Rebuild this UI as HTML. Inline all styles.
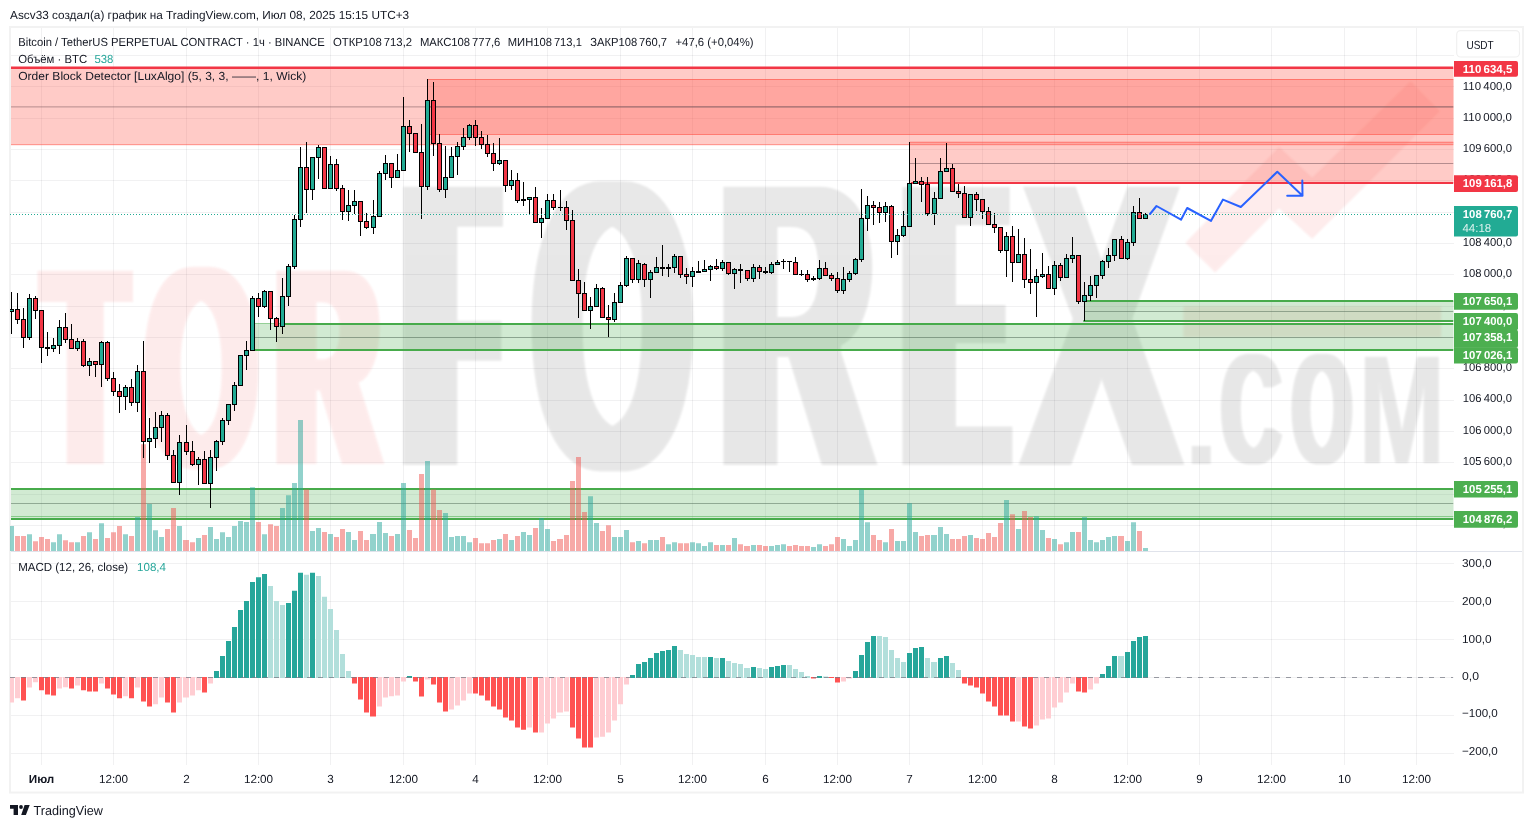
<!DOCTYPE html>
<html lang="ru"><head><meta charset="utf-8"><title>BTCUSDT.P chart</title>
<style>html,body{margin:0;padding:0;background:#fff;overflow:hidden}svg{display:block;opacity:0.999}</style>
</head><body>
<svg width="1533" height="828" viewBox="0 0 1533 828" font-family="'Liberation Sans', sans-serif" text-rendering="geometricPrecision">
<defs>
<clipPath id="cpMain"><rect x="10" y="28" width="1443.5" height="523.5"/></clipPath>
<clipPath id="cpMacd"><rect x="10" y="552" width="1443.5" height="213"/></clipPath>
<filter id="soft"><feGaussianBlur stdDeviation="1.2"/></filter>
</defs>
<rect width="1533" height="828" fill="#fff"/>
<text x="10.1" y="18.7" font-size="11.7" fill="#131722" textLength="399" lengthAdjust="spacingAndGlyphs" >Ascv33 создал(а) график на TradingView.com, Июл 08, 2025 15:15 UTC+3</text>
<rect x="10" y="27" width="1513" height="765.5" fill="none" stroke="#f2f2f2" stroke-width="2"/>
<path d="M41.5 28V765 M113.5 28V765 M186.5 28V765 M258.5 28V765 M330.5 28V765 M403.5 28V765 M475.5 28V765 M547.5 28V765 M620.5 28V765 M692.5 28V765 M765.5 28V765 M837.5 28V765 M909.5 28V765 M982.5 28V765 M1054.5 28V765 M1127.5 28V765 M1199.5 28V765 M1271.5 28V765 M1344.5 28V765 M1416.5 28V765" stroke="rgba(42,46,57,0.065)" stroke-width="1" fill="none" shape-rendering="crispEdges"/>
<path d="M11 55.5H1453.5 M11 86.5H1453.5 M11 118.5H1453.5 M11 149.5H1453.5 M11 180.5H1453.5 M11 212.5H1453.5 M11 243.5H1453.5 M11 274.5H1453.5 M11 306.5H1453.5 M11 337.5H1453.5 M11 368.5H1453.5 M11 400.5H1453.5 M11 431.5H1453.5 M11 462.5H1453.5 M11 494.5H1453.5 M11 525.5H1453.5 M11 563.5H1453.5 M11 601.5H1453.5 M11 639.5H1453.5 M11 677.5H1453.5 M11 715.5H1453.5 M11 753.5H1453.5" stroke="rgba(42,46,57,0.065)" stroke-width="1" fill="none" shape-rendering="crispEdges"/>
<g id="wm" clip-path="url(#cpMain)" aria-label="TORFOREX.COM"><desc>TORFOREX.COM</desc>
<filter id="wf1" filterUnits="userSpaceOnUse" x="8" y="241" width="154" height="253"><feMorphology operator="dilate" radius="8.5 0"/><feGaussianBlur stdDeviation="1.3"/></filter>
<g filter="url(#wf1)" opacity="0.086"><text transform="translate(45.03,463.90) scale(1.3160,2.8067)" font-size="100" font-weight="bold" fill="#f02828">T</text></g>
<filter id="wf2" filterUnits="userSpaceOnUse" x="114" y="237" width="175" height="263"><feMorphology operator="dilate" radius="8.4 0"/><feGaussianBlur stdDeviation="1.3"/></filter>
<g filter="url(#wf2)" opacity="0.086"><text transform="translate(146.19,466.59) scale(1.4177,2.8630)" font-size="100" font-weight="bold" fill="#f02828">O</text></g>
<filter id="wf3" filterUnits="userSpaceOnUse" x="247" y="241" width="167" height="253"><feMorphology operator="dilate" radius="9.5 0"/><feGaussianBlur stdDeviation="1.3"/></filter>
<g filter="url(#wf3)" opacity="0.086"><text transform="translate(277.24,463.90) scale(1.3847,2.8067)" font-size="100" font-weight="bold" fill="#f02828">R</text></g>
<filter id="wf4" filterUnits="userSpaceOnUse" x="373" y="157" width="160" height="338"><feMorphology operator="dilate" radius="18.1 0"/><feMorphology operator="erode" radius="0 3.0"/><feGaussianBlur stdDeviation="1.3"/></filter>
<g filter="url(#wf4)" opacity="0.092"><text transform="translate(412.80,468.00) scale(1.2557,4.1308)" font-size="100" font-weight="bold" fill="#000">F</text></g>
<filter id="wf5" filterUnits="userSpaceOnUse" x="502" y="151" width="222" height="350"><feMorphology operator="dilate" radius="11.0 0"/><feMorphology operator="erode" radius="0 2.0"/><feGaussianBlur stdDeviation="1.3"/></filter>
<g filter="url(#wf5)" opacity="0.092"><text transform="translate(534.25,469.33) scale(2.0121,4.1554)" font-size="100" font-weight="bold" fill="#000">O</text></g>
<filter id="wf6" filterUnits="userSpaceOnUse" x="693" y="157" width="216" height="338"><feMorphology operator="dilate" radius="12.2 0"/><feMorphology operator="erode" radius="0 3.0"/><feGaussianBlur stdDeviation="1.3"/></filter>
<g filter="url(#wf6)" opacity="0.092"><text transform="translate(721.48,468.00) scale(2.0810,4.1308)" font-size="100" font-weight="bold" fill="#000">R</text></g>
<filter id="wf7" filterUnits="userSpaceOnUse" x="872" y="157" width="170" height="338"><feMorphology operator="dilate" radius="17.2 0"/><feMorphology operator="erode" radius="0 3.8"/><feGaussianBlur stdDeviation="1.3"/></filter>
<g filter="url(#wf7)" opacity="0.092"><text transform="translate(910.34,468.80) scale(1.3547,4.1541)" font-size="100" font-weight="bold" fill="#000">E</text></g>
<filter id="wf8" filterUnits="userSpaceOnUse" x="989" y="157" width="225" height="338"><feMorphology operator="dilate" radius="8.5 0"/><feGaussianBlur stdDeviation="1.3"/></filter>
<g filter="url(#wf8)" opacity="0.092"><text transform="translate(1025.49,465.00) scale(2.2790,4.0436)" font-size="100" font-weight="bold" fill="#000">X</text></g>
<filter id="wf9" filterUnits="userSpaceOnUse" x="1162" y="416" width="79" height="78"><feGaussianBlur stdDeviation="1.0"/></filter>
<g filter="url(#wf9)" opacity="0.092"><text transform="translate(1182.61,463.60) scale(1.3536,1.2156)" font-size="100" font-weight="bold" fill="#000">.</text></g>
<filter id="wf10" filterUnits="userSpaceOnUse" x="1191" y="324" width="122" height="171"><feMorphology operator="dilate" radius="3.8 0"/><feMorphology operator="erode" radius="0 1.0"/><feGaussianBlur stdDeviation="1.1"/></filter>
<g filter="url(#wf10)" opacity="0.092"><text transform="translate(1221.52,464.34) scale(0.8243,1.5918)" font-size="100" font-weight="bold" fill="#000">C</text></g>
<filter id="wf11" filterUnits="userSpaceOnUse" x="1261" y="324" width="122" height="171"><feMorphology operator="dilate" radius="4.2 0"/><feMorphology operator="erode" radius="0 1.0"/><feGaussianBlur stdDeviation="1.1"/></filter>
<g filter="url(#wf11)" opacity="0.092"><text transform="translate(1292.17,464.34) scale(0.7642,1.5918)" font-size="100" font-weight="bold" fill="#000">O</text></g>
<filter id="wf12" filterUnits="userSpaceOnUse" x="1335" y="327" width="134" height="166"><feMorphology operator="dilate" radius="0.9 0"/><feGaussianBlur stdDeviation="1.1"/></filter>
<g filter="url(#wf12)" opacity="0.092"><text transform="translate(1358.92,463.30) scale(1.0283,1.5451)" font-size="100" font-weight="bold" fill="#000">M</text></g>
<g filter="url(#soft)" opacity="0.086"><path d="M1185.4 242.8L1279 147.1L1312.2 177.7L1410.6 81.2L1439.8 111.2L1312.2 238.8L1279 208.2L1215.2 272.6z" fill="#f02828"/><rect x="1183.4" y="306.3" width="257.8" height="30.9" fill="#f02828"/></g>
</g>
<g clip-path="url(#cpMain)">
<rect x="11" y="67.6" width="1443" height="77.1" fill="rgba(255,82,70,0.30)"/>
<rect x="428" y="79" width="1026" height="55.5" fill="rgba(255,82,70,0.30)"/>
<rect x="909.7" y="142" width="545" height="41" fill="rgba(255,82,70,0.30)"/>
<path d="M11 144.7H1453.5 M428 79.5H1453.5 M428 134.5H1453.5 M909.7 142.2H1453.5" stroke="rgba(255,82,70,0.6)" stroke-width="1" fill="none"/>
<path d="M11 106.9H1453.5 M428 106.9H1453.5 M909.7 163.5H1453.5" stroke="rgba(120,90,95,0.55)" stroke-width="1" fill="none"/>
<path d="M911 183H1453.5" stroke="#f23645" stroke-width="2" fill="none"/><path d="M11 67.8H1453.5" stroke="#f23645" stroke-width="2.4" fill="none"/>
<rect x="11" y="489" width="1443" height="30" fill="rgba(76,175,80,0.26)"/>
<rect x="255" y="324" width="1199" height="26" fill="rgba(76,175,80,0.26)"/>
<rect x="1085" y="301" width="369" height="20" fill="rgba(76,175,80,0.26)"/>
<path d="M11 516.5H1453.5" stroke="rgba(76,175,80,0.55)" stroke-width="1" fill="none"/>
<path d="M255 323.5H285" stroke="rgba(76,175,80,0.6)" stroke-width="1" fill="none"/>
<path d="M11 503.5H1453.5 M255 337.5H1453.5 M1085 311.5H1453.5" stroke="rgba(80,105,85,0.5)" stroke-width="1" fill="none"/>
<path d="M11 489H1453.5 M11 519H1453.5 M285 324H1453.5 M255 350H1453.5 M1087 301H1453.5 M1083.3 321H1453.5" stroke="#47ab4b" stroke-width="2" fill="none"/>
</g>
<g clip-path="url(#cpMain)">
<path d="M9 526.0h5V551h-5zM27 534.2h5V551h-5zM51 542.2h5V551h-5zM57 534.2h5V551h-5zM75 542.2h5V551h-5zM87 532.2h5V551h-5zM99 523.2h5V551h-5zM123 534.2h5V551h-5zM135 517.1h5V551h-5zM147 504.0h5V551h-5zM153 530.3h5V551h-5zM159 537.1h5V551h-5zM177 526.0h5V551h-5zM196 538.1h5V551h-5zM208 527.1h5V551h-5zM214 539.1h5V551h-5zM220 532.2h5V551h-5zM226 537.1h5V551h-5zM232 526.0h5V551h-5zM238 521.1h5V551h-5zM244 522.0h5V551h-5zM250 487.2h5V551h-5zM262 534.2h5V551h-5zM280 507.9h5V551h-5zM286 495.2h5V551h-5zM292 483.1h5V551h-5zM298 419.9h5V551h-5zM310 531.0h5V551h-5zM316 528.1h5V551h-5zM328 534.0h5V551h-5zM346 532.0h5V551h-5zM352 540.0h5V551h-5zM370 534.0h6V551h-6zM377 522.0h5V551h-5zM383 533.0h5V551h-5zM395 534.0h5V551h-5zM401 483.1h5V551h-5zM425 461.0h5V551h-5zM443 513.0h5V551h-5zM449 537.1h5V551h-5zM455 535.9h5V551h-5zM461 535.9h5V551h-5zM467 542.2h5V551h-5zM497 539.1h5V551h-5zM509 540.0h5V551h-5zM521 532.0h5V551h-5zM527 535.1h5V551h-5zM539 518.1h5V551h-5zM545 529.1h5V551h-5zM588 496.2h5V551h-5zM594 523.0h5V551h-5zM612 537.1h5V551h-5zM618 537.1h5V551h-5zM624 530.1h5V551h-5zM636 541.0h5V551h-5zM648 540.0h5V551h-5zM654 540.0h5V551h-5zM666 544.2h5V551h-5zM672 542.2h5V551h-5zM690 542.2h5V551h-5zM696 543.2h5V551h-5zM702 546.1h5V551h-5zM708 542.2h5V551h-5zM720 545.1h5V551h-5zM732 538.1h5V551h-5zM751 545.1h5V551h-5zM769 546.1h5V551h-5zM775 545.1h5V551h-5zM781 544.2h5V551h-5zM811 547.1h5V551h-5zM817 544.2h5V551h-5zM841 539.1h5V551h-5zM847 546.1h5V551h-5zM853 540.0h5V551h-5zM859 489.4h5V551h-5zM865 522.2h5V551h-5zM883 542.2h5V551h-5zM895 541.0h5V551h-5zM901 541.0h5V551h-5zM907 503.3h5V551h-5zM913 532.0h5V551h-5zM931 535.1h6V551h-6zM938 527.1h5V551h-5zM944 534.0h5V551h-5zM968 535.1h5V551h-5zM1004 500.1h5V551h-5zM1016 529.1h5V551h-5zM1034 516.2h5V551h-5zM1040 530.1h5V551h-5zM1052 539.1h5V551h-5zM1064 542.2h5V551h-5zM1070 532.0h5V551h-5zM1082 517.1h5V551h-5zM1088 540.0h5V551h-5zM1094 542.2h5V551h-5zM1100 540.0h5V551h-5zM1106 537.1h5V551h-5zM1112 536.1h5V551h-5zM1125 541.0h5V551h-5zM1131 522.2h5V551h-5zM1143 548.1h5V551h-5z" fill="rgba(38,166,154,0.5)"/>
<path d="M15 536.1h5V551h-5zM21 536.1h5V551h-5zM33 541.2h5V551h-5zM39 537.1h5V551h-5zM45 539.1h5V551h-5zM63 540.2h5V551h-5zM69 542.2h5V551h-5zM81 536.1h5V551h-5zM93 539.1h5V551h-5zM105 538.1h5V551h-5zM111 532.2h5V551h-5zM117 526.0h5V551h-5zM129 536.1h5V551h-5zM141 444.2h5V551h-5zM165 529.1h5V551h-5zM171 507.9h5V551h-5zM183 540.0h6V551h-6zM190 542.2h5V551h-5zM202 535.1h5V551h-5zM256 522.0h5V551h-5zM268 524.2h5V551h-5zM274 526.0h5V551h-5zM304 489.4h5V551h-5zM322 532.0h5V551h-5zM334 537.1h5V551h-5zM340 529.1h5V551h-5zM358 531.0h5V551h-5zM364 540.0h5V551h-5zM389 536.1h5V551h-5zM407 530.1h5V551h-5zM413 538.1h5V551h-5zM419 474.1h5V551h-5zM431 489.4h5V551h-5zM437 510.1h5V551h-5zM473 538.1h5V551h-5zM479 543.2h5V551h-5zM485 543.2h5V551h-5zM491 540.0h5V551h-5zM503 534.0h5V551h-5zM515 536.1h5V551h-5zM533 528.1h5V551h-5zM551 541.0h5V551h-5zM557 539.1h6V551h-6zM564 535.1h5V551h-5zM570 481.1h5V551h-5zM576 457.1h5V551h-5zM582 512.1h5V551h-5zM600 531.0h5V551h-5zM606 525.2h5V551h-5zM630 542.2h5V551h-5zM642 543.2h5V551h-5zM660 537.1h5V551h-5zM678 543.2h5V551h-5zM684 543.2h5V551h-5zM714 545.1h5V551h-5zM726 545.1h5V551h-5zM738 544.2h5V551h-5zM744 546.1h6V551h-6zM757 545.1h5V551h-5zM763 546.1h5V551h-5zM787 546.1h5V551h-5zM793 545.1h5V551h-5zM799 546.1h5V551h-5zM805 546.1h5V551h-5zM823 546.1h5V551h-5zM829 544.2h5V551h-5zM835 537.1h5V551h-5zM871 535.1h5V551h-5zM877 540.0h5V551h-5zM889 529.1h5V551h-5zM919 536.1h5V551h-5zM925 535.1h5V551h-5zM950 539.1h5V551h-5zM956 539.1h5V551h-5zM962 536.1h5V551h-5zM974 538.1h5V551h-5zM980 539.1h5V551h-5zM986 533.0h5V551h-5zM992 537.1h5V551h-5zM998 523.0h5V551h-5zM1010 514.2h5V551h-5zM1022 511.1h5V551h-5zM1028 517.1h5V551h-5zM1046 538.1h5V551h-5zM1058 544.2h5V551h-5zM1076 532.0h5V551h-5zM1118 536.1h6V551h-6zM1137 531.0h5V551h-5z" fill="rgba(239,83,80,0.5)"/>
</g>
<g clip-path="url(#cpMain)" shape-rendering="crispEdges">
<path d="M11 292h1V334h-1zM17 293h1V324h-1zM23 308h1V348h-1zM29 294h1V340h-1zM35 296h1V319h-1zM41 310h1V363h-1zM47 332h1V356h-1zM53 338h1V352h-1zM59 320h1V354h-1zM65 313h1V343h-1zM71 324h1V349h-1zM77 338h1V351h-1zM83 339h1V367h-1zM89 358h1V376h-1zM95 361h1V377h-1zM101 341h1V387h-1zM107 341h1V381h-1zM113 372h1V396h-1zM119 384h1V413h-1zM125 385h1V410h-1zM131 379h1V406h-1zM137 365h1V412h-1zM143 341h1V458h-1zM149 418h1V463h-1zM155 412h1V448h-1zM161 411h1V442h-1zM167 413h1V460h-1zM173 450h1V483h-1zM179 435h1V495h-1zM186 425h1V455h-1zM192 441h1V466h-1zM198 457h1V485h-1zM204 451h1V484h-1zM210 450h1V508h-1zM216 440h1V471h-1zM222 418h1V445h-1zM228 404h1V425h-1zM234 382h1V411h-1zM240 355h1V386h-1zM246 341h1V370h-1zM252 296h1V351h-1zM258 293h1V317h-1zM264 290h1V308h-1zM270 291h1V330h-1zM276 317h1V342h-1zM282 278h1V334h-1zM288 264h1V306h-1zM294 215h1V269h-1zM300 147h1V227h-1zM306 142h1V213h-1zM312 157h1V200h-1zM318 145h1V179h-1zM324 147h1V189h-1zM330 156h1V189h-1zM336 159h1V191h-1zM342 185h1V220h-1zM348 190h1V221h-1zM354 190h1V214h-1zM360 201h1V236h-1zM366 213h1V229h-1zM373 200h1V234h-1zM379 171h1V217h-1zM385 155h1V180h-1zM391 163h1V188h-1zM397 154h1V178h-1zM403 97h1V171h-1zM409 120h1V152h-1zM415 133h1V153h-1zM421 124h1V219h-1zM427 79h1V190h-1zM433 82h1V156h-1zM439 134h1V192h-1zM445 146h1V198h-1zM451 147h1V178h-1zM457 142h1V175h-1zM463 128h1V150h-1zM469 124h1V140h-1zM475 120h1V146h-1zM481 131h1V149h-1zM487 135h1V157h-1zM493 143h1V171h-1zM499 138h1V165h-1zM505 160h1V192h-1zM511 170h1V190h-1zM517 173h1V203h-1zM523 182h1V206h-1zM529 197h1V214h-1zM535 187h1V223h-1zM541 208h1V238h-1zM547 194h1V219h-1zM553 194h1V210h-1zM560 190h1V211h-1zM566 201h1V230h-1zM572 210h1V281h-1zM578 269h1V318h-1zM584 282h1V311h-1zM590 297h1V329h-1zM596 284h1V307h-1zM602 287h1V318h-1zM608 305h1V337h-1zM614 293h1V322h-1zM620 282h1V303h-1zM626 256h1V287h-1zM632 258h1V283h-1zM638 260h1V283h-1zM644 263h1V287h-1zM650 270h1V298h-1zM656 257h1V273h-1zM662 245h1V276h-1zM668 264h1V277h-1zM674 254h1V273h-1zM680 256h1V278h-1zM686 268h1V284h-1zM692 267h1V287h-1zM698 261h1V273h-1zM704 260h1V272h-1zM710 265h1V281h-1zM716 259h1V270h-1zM722 260h1V271h-1zM728 262h1V275h-1zM734 268h1V289h-1zM740 264h1V283h-1zM747 270h1V281h-1zM753 264h1V282h-1zM759 265h1V279h-1zM765 267h1V274h-1zM771 262h1V274h-1zM777 260h1V265h-1zM783 259h1V269h-1zM789 261h1V272h-1zM795 257h1V275h-1zM801 270h1V276h-1zM807 270h1V282h-1zM813 276h1V281h-1zM819 260h1V280h-1zM825 262h1V276h-1zM831 273h1V281h-1zM837 272h1V293h-1zM843 267h1V294h-1zM849 271h1V282h-1zM855 258h1V275h-1zM861 189h1V262h-1zM867 196h1V231h-1zM873 201h1V225h-1zM879 202h1V223h-1zM885 202h1V222h-1zM891 205h1V258h-1zM897 229h1V255h-1zM903 211h1V237h-1zM909 142h1V227h-1zM915 158h1V184h-1zM921 177h1V202h-1zM927 177h1V216h-1zM934 192h1V225h-1zM940 158h1V199h-1zM946 143h1V172h-1zM952 164h1V192h-1zM958 184h1V198h-1zM964 186h1V218h-1zM970 194h1V226h-1zM976 192h1V211h-1zM982 199h1V219h-1zM988 207h1V225h-1zM994 213h1V233h-1zM1000 227h1V253h-1zM1006 232h1V277h-1zM1012 226h1V282h-1zM1018 229h1V263h-1zM1024 238h1V288h-1zM1030 249h1V294h-1zM1036 269h1V317h-1zM1042 253h1V278h-1zM1048 266h1V289h-1zM1054 261h1V295h-1zM1060 263h1V281h-1zM1066 254h1V278h-1zM1072 237h1V263h-1zM1078 255h1V304h-1zM1084 282h1V321h-1zM1090 276h1V301h-1zM1096 275h1V298h-1zM1102 260h1V279h-1zM1108 248h1V268h-1zM1114 239h1V261h-1zM1121 236h1V259h-1zM1127 239h1V260h-1zM1133 206h1V246h-1zM1139 198h1V219h-1zM1145 213h1V219h-1z" fill="#000"/>
<path d="M9 309h5V312h-5zM15 309h5V320h-5zM21 319h5V338h-5zM27 298h5V338h-5zM33 298h5V311h-5zM39 310h5V348h-5zM45 347h5V349h-5zM51 345h5V349h-5zM57 327h5V346h-5zM63 327h5V340h-5zM69 339h5V349h-5zM75 341h5V349h-5zM81 341h5V366h-5zM87 361h5V366h-5zM93 361h5V365h-5zM99 342h5V365h-5zM105 342h5V379h-5zM111 378h5V392h-5zM117 391h5V397h-5zM123 387h5V397h-5zM129 387h5V403h-5zM135 371h5V403h-5zM141 371h5V442h-5zM147 438h5V442h-5zM153 427h5V439h-5zM159 415h5V428h-5zM165 415h5V456h-5zM171 455h5V483h-5zM177 442h5V483h-5zM184 442h5V452h-5zM190 451h5V465h-5zM196 459h5V465h-5zM202 459h5V484h-5zM208 457h5V484h-5zM214 441h5V458h-5zM220 420h5V442h-5zM226 404h5V421h-5zM232 385h5V405h-5zM238 355h5V386h-5zM244 350h5V356h-5zM250 298h5V351h-5zM256 298h5V307h-5zM262 291h5V307h-5zM268 291h5V319h-5zM274 318h5V327h-5zM280 296h5V327h-5zM286 266h5V297h-5zM292 219h5V267h-5zM298 167h5V220h-5zM304 167h5V190h-5zM310 157h5V190h-5zM316 147h5V158h-5zM322 147h5V189h-5zM328 164h5V189h-5zM334 164h5V189h-5zM340 188h5V212h-5zM346 205h5V212h-5zM352 201h5V206h-5zM358 201h5V222h-5zM364 221h5V228h-5zM371 216h5V228h-5zM377 173h5V217h-5zM383 163h5V174h-5zM389 163h5V178h-5zM395 170h5V178h-5zM401 126h5V171h-5zM407 126h5V134h-5zM413 133h5V153h-5zM419 152h5V187h-5zM425 100h5V187h-5zM431 100h5V144h-5zM437 143h5V190h-5zM443 177h5V190h-5zM449 156h5V178h-5zM455 146h5V157h-5zM461 137h5V147h-5zM467 125h5V138h-5zM473 125h5V138h-5zM479 137h5V145h-5zM485 144h5V154h-5zM491 153h5V164h-5zM497 160h5V164h-5zM503 160h5V186h-5zM509 180h5V186h-5zM515 180h5V201h-5zM521 199h5V201h-5zM527 197h5V200h-5zM533 197h5V223h-5zM539 218h5V223h-5zM545 200h5V219h-5zM551 200h5V208h-5zM558 207h5V208h-5zM564 207h5V221h-5zM570 220h5V281h-5zM576 280h5V294h-5zM582 293h5V311h-5zM588 306h5V311h-5zM594 288h5V307h-5zM600 288h5V318h-5zM606 317h5V320h-5zM612 302h5V320h-5zM618 285h5V303h-5zM624 258h5V286h-5zM630 258h5V280h-5zM636 263h5V280h-5zM642 264h5V280h-5zM648 272h5V280h-5zM654 267h5V273h-5zM660 267h5V269h-5zM666 267h5V269h-5zM672 256h5V268h-5zM678 256h5V275h-5zM684 274h5V277h-5zM690 271h5V277h-5zM696 271h5V273h-5zM702 269h5V272h-5zM708 266h5V270h-5zM714 266h5V269h-5zM720 262h5V269h-5zM726 262h5V274h-5zM732 269h5V274h-5zM738 269h5V271h-5zM745 270h5V279h-5zM751 267h5V279h-5zM757 267h5V272h-5zM763 271h5V273h-5zM769 264h5V273h-5zM775 262h5V265h-5zM781 261h5V262h-5zM787 261h5V262h-5zM793 262h5V275h-5zM799 274h5V275h-5zM805 274h5V280h-5zM811 278h5V280h-5zM817 268h5V279h-5zM823 268h5V276h-5zM829 275h5V279h-5zM835 278h5V291h-5zM841 279h5V291h-5zM847 273h5V280h-5zM853 259h5V274h-5zM859 218h5V260h-5zM865 205h5V219h-5zM871 205h5V208h-5zM877 207h5V213h-5zM883 206h5V213h-5zM889 206h5V242h-5zM895 235h5V242h-5zM901 226h5V236h-5zM907 183h5V227h-5zM913 181h5V184h-5zM919 181h5V185h-5zM925 184h5V214h-5zM932 198h5V214h-5zM938 171h5V199h-5zM944 168h5V172h-5zM950 168h5V192h-5zM956 191h5V194h-5zM962 193h5V218h-5zM968 194h5V218h-5zM974 194h5V200h-5zM980 199h5V212h-5zM986 211h5V225h-5zM992 224h5V228h-5zM998 227h5V251h-5zM1004 236h5V251h-5zM1010 236h5V263h-5zM1016 254h5V263h-5zM1022 254h5V280h-5zM1028 279h5V283h-5zM1034 276h5V283h-5zM1040 274h5V277h-5zM1046 274h5V289h-5zM1052 265h5V289h-5zM1058 265h5V278h-5zM1064 258h5V278h-5zM1070 255h5V259h-5zM1076 255h5V302h-5zM1082 295h5V302h-5zM1088 285h5V296h-5zM1094 275h5V286h-5zM1100 261h5V276h-5zM1106 255h5V262h-5zM1112 239h5V256h-5zM1119 239h5V259h-5zM1125 242h5V259h-5zM1131 212h5V243h-5zM1137 212h5V219h-5zM1143 214h5V219h-5z" fill="#000"/>
<path d="M10 310h3V311h-3zM28 299h3V337h-3zM52 346h3V348h-3zM58 328h3V345h-3zM76 342h3V348h-3zM88 362h3V365h-3zM100 343h3V364h-3zM124 388h3V396h-3zM136 372h3V402h-3zM148 439h3V441h-3zM154 428h3V438h-3zM160 416h3V427h-3zM178 443h3V482h-3zM197 460h3V464h-3zM209 458h3V483h-3zM215 442h3V457h-3zM221 421h3V441h-3zM227 405h3V420h-3zM233 386h3V404h-3zM239 356h3V385h-3zM245 351h3V355h-3zM251 299h3V350h-3zM263 292h3V306h-3zM281 297h3V326h-3zM287 267h3V296h-3zM293 220h3V266h-3zM299 168h3V219h-3zM311 158h3V189h-3zM317 148h3V157h-3zM329 165h3V188h-3zM347 206h3V211h-3zM353 202h3V205h-3zM372 217h3V227h-3zM378 174h3V216h-3zM384 164h3V173h-3zM396 171h3V177h-3zM402 127h3V170h-3zM426 101h3V186h-3zM444 178h3V189h-3zM450 157h3V177h-3zM456 147h3V156h-3zM462 138h3V146h-3zM468 126h3V137h-3zM498 161h3V163h-3zM510 181h3V185h-3zM528 198h3V199h-3zM540 219h3V222h-3zM546 201h3V218h-3zM589 307h3V310h-3zM595 289h3V306h-3zM613 303h3V319h-3zM619 286h3V302h-3zM625 259h3V285h-3zM637 264h3V279h-3zM649 273h3V279h-3zM655 268h3V272h-3zM673 257h3V267h-3zM691 272h3V276h-3zM703 270h3V271h-3zM709 267h3V269h-3zM721 263h3V268h-3zM733 270h3V273h-3zM752 268h3V278h-3zM770 265h3V272h-3zM776 263h3V264h-3zM818 269h3V278h-3zM842 280h3V290h-3zM848 274h3V279h-3zM854 260h3V273h-3zM860 219h3V259h-3zM866 206h3V218h-3zM884 207h3V212h-3zM896 236h3V241h-3zM902 227h3V235h-3zM908 184h3V226h-3zM914 182h3V183h-3zM933 199h3V213h-3zM939 172h3V198h-3zM945 169h3V171h-3zM969 195h3V217h-3zM1005 237h3V250h-3zM1017 255h3V262h-3zM1035 277h3V282h-3zM1041 275h3V276h-3zM1053 266h3V288h-3zM1065 259h3V277h-3zM1071 256h3V258h-3zM1083 296h3V301h-3zM1089 286h3V295h-3zM1095 276h3V285h-3zM1101 262h3V275h-3zM1107 256h3V261h-3zM1113 240h3V255h-3zM1126 243h3V258h-3zM1132 213h3V242h-3zM1144 215h3V218h-3z" fill="#22ab94"/>
<path d="M16 310h3V319h-3zM22 320h3V337h-3zM34 299h3V310h-3zM40 311h3V347h-3zM64 328h3V339h-3zM70 340h3V348h-3zM82 342h3V365h-3zM94 362h3V364h-3zM106 343h3V378h-3zM112 379h3V391h-3zM118 392h3V396h-3zM130 388h3V402h-3zM142 372h3V441h-3zM166 416h3V455h-3zM172 456h3V482h-3zM185 443h3V451h-3zM191 452h3V464h-3zM203 460h3V483h-3zM257 299h3V306h-3zM269 292h3V318h-3zM275 319h3V326h-3zM305 168h3V189h-3zM323 148h3V188h-3zM335 165h3V188h-3zM341 189h3V211h-3zM359 202h3V221h-3zM365 222h3V227h-3zM390 164h3V177h-3zM408 127h3V133h-3zM414 134h3V152h-3zM420 153h3V186h-3zM432 101h3V143h-3zM438 144h3V189h-3zM474 126h3V137h-3zM480 138h3V144h-3zM486 145h3V153h-3zM492 154h3V163h-3zM504 161h3V185h-3zM516 181h3V200h-3zM534 198h3V222h-3zM552 201h3V207h-3zM565 208h3V220h-3zM571 221h3V280h-3zM577 281h3V293h-3zM583 294h3V310h-3zM601 289h3V317h-3zM607 318h3V319h-3zM631 259h3V279h-3zM643 265h3V279h-3zM679 257h3V274h-3zM685 275h3V276h-3zM715 267h3V268h-3zM727 263h3V273h-3zM746 271h3V278h-3zM758 268h3V271h-3zM794 263h3V274h-3zM806 275h3V279h-3zM824 269h3V275h-3zM830 276h3V278h-3zM836 279h3V290h-3zM872 206h3V207h-3zM878 208h3V212h-3zM890 207h3V241h-3zM920 182h3V184h-3zM926 185h3V213h-3zM951 169h3V191h-3zM957 192h3V193h-3zM963 194h3V217h-3zM975 195h3V199h-3zM981 200h3V211h-3zM987 212h3V224h-3zM993 225h3V227h-3zM999 228h3V250h-3zM1011 237h3V262h-3zM1023 255h3V279h-3zM1029 280h3V282h-3zM1047 275h3V288h-3zM1059 266h3V277h-3zM1077 256h3V301h-3zM1120 240h3V258h-3zM1138 213h3V218h-3z" fill="#f23645"/>
</g>
<g clip-path="url(#cpMain)"><path d="" fill="#22ab94" opacity="0.8"/><path d="" fill="#f23645" opacity="0.8"/></g>
<path d="M10 214.5H1453" stroke="#22ab94" stroke-width="1" stroke-dasharray="1 2" fill="none" shape-rendering="crispEdges"/>
<path d="M1150 214 L1156.5 206 L1181 219.7 L1187.2 208 L1210.9 220.9 L1223 199.6 L1240.8 207 L1277.3 171.7 L1302.5 195.8 M1302.3 180.6 L1302.5 195.8 L1287.2 195.8" stroke="#2962ff" stroke-width="2" fill="none" stroke-linejoin="round" stroke-linecap="round"/>
<g clip-path="url(#cpMacd)">
<path d="M214 678h5V671.0h-5zM220 678h5V656.0h-5zM226 678h5V641.0h-5zM232 678h5V627.0h-5zM238 678h5V610.1h-5zM244 678h5V600.9h-5zM250 678h5V582.1h-5zM256 678h5V577.3h-5zM262 678h5V573.9h-5zM286 678h5V602.9h-5zM292 678h5V590.8h-5zM298 678h5V572.7h-5zM310 678h5V572.7h-5zM407 678h5V676.1h-5zM630 678h5V675.1h-5zM636 678h5V664.0h-5zM642 678h5V662.0h-5zM648 678h5V657.9h-5zM654 678h5V653.1h-5zM660 678h5V650.9h-5zM666 678h5V650.0h-5zM672 678h5V645.9h-5zM708 678h5V657.0h-5zM720 678h5V657.9h-5zM751 678h5V666.9h-5zM769 678h5V666.9h-5zM775 678h5V665.9h-5zM781 678h5V664.9h-5zM817 678h5V676.1h-5zM853 678h5V671.0h-5zM859 678h5V655.0h-5zM865 678h5V642.0h-5zM871 678h5V636.0h-5zM907 678h5V653.1h-5zM913 678h5V648.0h-5zM919 678h5V647.1h-5zM938 678h5V657.9h-5zM944 678h5V656.0h-5zM1100 678h5V674.1h-5zM1106 678h5V665.9h-5zM1112 678h5V656.0h-5zM1125 678h5V651.9h-5zM1131 678h5V641.0h-5zM1137 678h5V636.9h-5zM1143 678h5V636.0h-5z" fill="#26a69a"/>
<path d="M268 678h5V586.0h-5zM274 678h5V600.9h-5zM280 678h5V605.0h-5zM304 678h5V574.8h-5zM316 678h5V576.1h-5zM322 678h5V596.8h-5zM328 678h5V608.9h-5zM334 678h5V629.9h-5zM340 678h5V654.1h-5zM346 678h5V671.0h-5zM678 678h5V650.0h-5zM684 678h5V654.1h-5zM690 678h5V655.0h-5zM696 678h5V657.0h-5zM702 678h5V657.0h-5zM714 678h5V657.9h-5zM726 678h5V661.1h-5zM732 678h5V663.0h-5zM738 678h5V664.0h-5zM744 678h6V668.1h-6zM757 678h5V668.1h-5zM763 678h5V669.0h-5zM787 678h5V664.9h-5zM793 678h5V669.0h-5zM799 678h5V671.9h-5zM805 678h5V676.1h-5zM823 678h5V676.5h-5zM877 678h5V636.0h-5zM883 678h5V636.9h-5zM889 678h5V650.0h-5zM895 678h5V657.9h-5zM901 678h5V662.0h-5zM925 678h5V657.9h-5zM931 678h6V662.0h-6zM950 678h5V663.0h-5zM956 678h5V670.0h-5zM1118 678h6V656.0h-6z" fill="#b2dfdb"/>
<path d="M21 677h5V700.4h-5zM39 677h5V690.3h-5zM45 677h5V694.4h-5zM51 677h5V695.6h-5zM69 677h5V688.4h-5zM81 677h5V690.3h-5zM87 677h5V691.5h-5zM93 677h5V691.5h-5zM105 677h5V688.4h-5zM111 677h5V694.4h-5zM117 677h5V698.3h-5zM129 677h5V698.3h-5zM141 677h5V701.4h-5zM147 677h5V706.5h-5zM165 677h5V702.4h-5zM171 677h5V712.5h-5zM202 677h5V692.5h-5zM352 677h5V683.5h-5zM358 677h5V699.5h-5zM364 677h5V712.5h-5zM370 677h6V716.6h-6zM413 677h5V681.4h-5zM419 677h5V696.6h-5zM431 677h5V684.5h-5zM437 677h5V702.4h-5zM443 677h5V711.6h-5zM473 677h5V693.4h-5zM479 677h5V695.6h-5zM485 677h5V700.4h-5zM491 677h5V706.5h-5zM497 677h5V709.6h-5zM503 677h5V717.6h-5zM509 677h5V720.5h-5zM515 677h5V727.5h-5zM521 677h5V729.7h-5zM533 677h5V732.6h-5zM570 677h5V727.5h-5zM576 677h5V738.6h-5zM582 677h5V747.5h-5zM588 677h5V747.5h-5zM811 677h5V678.5h-5zM829 677h5V678.0h-5zM835 677h5V682.6h-5zM962 677h5V683.5h-5zM968 677h5V685.5h-5zM974 677h5V687.4h-5zM980 677h5V693.4h-5zM986 677h5V701.4h-5zM992 677h5V706.5h-5zM998 677h5V715.4h-5zM1004 677h5V715.4h-5zM1010 677h5V721.5h-5zM1022 677h5V726.5h-5zM1028 677h5V728.5h-5zM1076 677h5V691.5h-5zM1082 677h5V692.5h-5z" fill="#ff5252"/>
<path d="M9 677h5V702.4h-5zM15 677h5V698.3h-5zM27 677h5V687.4h-5zM33 677h5V682.3h-5zM57 677h5V688.4h-5zM63 677h5V687.2h-5zM75 677h5V685.5h-5zM99 677h5V683.5h-5zM123 677h5V696.3h-5zM135 677h5V687.4h-5zM153 677h5V704.3h-5zM159 677h5V697.5h-5zM177 677h5V702.4h-5zM183 677h6V697.5h-6zM190 677h5V695.6h-5zM196 677h5V690.3h-5zM208 677h5V683.5h-5zM377 677h5V706.5h-5zM383 677h5V697.5h-5zM389 677h5V696.3h-5zM395 677h5V695.6h-5zM401 677h5V681.4h-5zM425 677h5V679.4h-5zM449 677h5V709.6h-5zM455 677h5V705.5h-5zM461 677h5V700.4h-5zM467 677h5V693.4h-5zM527 677h5V727.5h-5zM539 677h5V732.6h-5zM545 677h5V723.6h-5zM551 677h5V718.6h-5zM557 677h6V712.5h-6zM564 677h5V711.6h-5zM594 677h5V737.6h-5zM600 677h5V736.7h-5zM606 677h5V732.6h-5zM612 677h5V720.5h-5zM618 677h5V704.3h-5zM624 677h5V684.5h-5zM841 677h5V681.4h-5zM847 677h5V678.5h-5zM1016 677h5V721.5h-5zM1034 677h5V725.6h-5zM1040 677h5V719.5h-5zM1046 677h5V718.6h-5zM1052 677h5V707.5h-5zM1058 677h5V702.4h-5zM1064 677h5V692.5h-5zM1070 677h5V683.5h-5zM1088 677h5V689.6h-5zM1094 677h5V683.5h-5z" fill="#ffcdd2"/>
<path d="M10 677.5H1453" stroke="#787b86" stroke-opacity="0.75" stroke-width="1" stroke-dasharray="5 6" fill="none" shape-rendering="crispEdges"/>
</g>
<path d="M11 551.5H1522" stroke="#e0e3eb" stroke-width="1" fill="none"/>
<text x="18.2" y="45.6" font-size="11.7" fill="#131722" textLength="306.5" lengthAdjust="spacingAndGlyphs">Bitcoin / TetherUS PERPETUAL CONTRACT · 1ч · BINANCE</text>
<text x="332.9" y="45.6" font-size="11.7" fill="#131722" textLength="79.2" lengthAdjust="spacingAndGlyphs">ОТКР108 <tspan dx="-1.2">713,2</tspan></text>
<text x="419.9" y="45.6" font-size="11.7" fill="#131722" textLength="80.4" lengthAdjust="spacingAndGlyphs">МАКС108 <tspan dx="-1.2">777,6</tspan></text>
<text x="507.8" y="45.6" font-size="11.7" fill="#131722" textLength="74.1" lengthAdjust="spacingAndGlyphs">МИН108 <tspan dx="-1.2">713,1</tspan></text>
<text x="590.3" y="45.6" font-size="11.7" fill="#131722" textLength="76.8" lengthAdjust="spacingAndGlyphs">ЗАКР108 <tspan dx="-1.2">760,7</tspan></text>
<text x="675.5" y="45.6" font-size="11.7" fill="#131722" textLength="78" lengthAdjust="spacingAndGlyphs" >+47,6 (+0,04%)</text>
<text x="18.2" y="62.5" font-size="11.7" fill="#131722" textLength="69" lengthAdjust="spacingAndGlyphs" >Объём · BTC</text>
<text x="94.5" y="62.5" font-size="11.7" fill="#26a69a" textLength="18.9" lengthAdjust="spacingAndGlyphs" >538</text>
<text x="18.2" y="79.9" font-size="11.7" fill="#131722" textLength="288.1" lengthAdjust="spacingAndGlyphs" >Order Block Detector [LuxAlgo] (5, 3, 3, ——, 1, Wick)</text>
<text x="18.2" y="571.3" font-size="11.7" fill="#131722" textLength="110" lengthAdjust="spacingAndGlyphs" >MACD (12, 26, close)</text>
<text x="137" y="571.3" font-size="11.7" fill="#26a69a" textLength="29" lengthAdjust="spacingAndGlyphs" >108,4</text>
<text x="1462.8" y="89.7" font-size="11.5" fill="#131722" textLength="49.1" lengthAdjust="spacingAndGlyphs">110 <tspan dx="-0.9">400,0</tspan></text>
<text x="1462.8" y="120.9" font-size="11.5" fill="#131722" textLength="49.1" lengthAdjust="spacingAndGlyphs">110 <tspan dx="-0.9">000,0</tspan></text>
<text x="1462.8" y="152.2" font-size="11.5" fill="#131722" textLength="49.1" lengthAdjust="spacingAndGlyphs">109 <tspan dx="-0.9">600,0</tspan></text>
<text x="1462.8" y="183.4" font-size="11.5" fill="#131722" textLength="49.1" lengthAdjust="spacingAndGlyphs">109 <tspan dx="-0.9">200,0</tspan></text>
<text x="1462.8" y="214.7" font-size="11.5" fill="#131722" textLength="49.1" lengthAdjust="spacingAndGlyphs">108 <tspan dx="-0.9">800,0</tspan></text>
<text x="1462.8" y="245.9" font-size="11.5" fill="#131722" textLength="49.1" lengthAdjust="spacingAndGlyphs">108 <tspan dx="-0.9">400,0</tspan></text>
<text x="1462.8" y="277.2" font-size="11.5" fill="#131722" textLength="49.1" lengthAdjust="spacingAndGlyphs">108 <tspan dx="-0.9">000,0</tspan></text>
<text x="1462.8" y="308.5" font-size="11.5" fill="#131722" textLength="49.1" lengthAdjust="spacingAndGlyphs">107 <tspan dx="-0.9">600,0</tspan></text>
<text x="1462.8" y="339.7" font-size="11.5" fill="#131722" textLength="49.1" lengthAdjust="spacingAndGlyphs">107 <tspan dx="-0.9">200,0</tspan></text>
<text x="1462.8" y="371.0" font-size="11.5" fill="#131722" textLength="49.1" lengthAdjust="spacingAndGlyphs">106 <tspan dx="-0.9">800,0</tspan></text>
<text x="1462.8" y="402.2" font-size="11.5" fill="#131722" textLength="49.1" lengthAdjust="spacingAndGlyphs">106 <tspan dx="-0.9">400,0</tspan></text>
<text x="1462.8" y="433.5" font-size="11.5" fill="#131722" textLength="49.1" lengthAdjust="spacingAndGlyphs">106 <tspan dx="-0.9">000,0</tspan></text>
<text x="1462.8" y="464.7" font-size="11.5" fill="#131722" textLength="49.1" lengthAdjust="spacingAndGlyphs">105 <tspan dx="-0.9">600,0</tspan></text>
<text x="1462.8" y="496.0" font-size="11.5" fill="#131722" textLength="49.1" lengthAdjust="spacingAndGlyphs">105 <tspan dx="-0.9">200,0</tspan></text>
<text x="1462.8" y="527.2" font-size="11.5" fill="#131722" textLength="49.1" lengthAdjust="spacingAndGlyphs">104 <tspan dx="-0.9">800,0</tspan></text>
<path d="M1454 60.9H1516a2 2 0 0 1 2 2V74.7a2 2 0 0 1 -2 2H1454z" fill="#f23645"/>
<text x="1462.8" y="72.5" font-size="11.5" font-weight="bold" fill="#fff" textLength="49.5" lengthAdjust="spacingAndGlyphs">110 <tspan dx="-0.9">634,5</tspan></text>
<path d="M1454 175.2H1516a2 2 0 0 1 2 2V189.9a2 2 0 0 1 -2 2H1454z" fill="#f23645"/>
<text x="1462.8" y="186.8" font-size="11.5" font-weight="bold" fill="#fff" textLength="49.5" lengthAdjust="spacingAndGlyphs">109 <tspan dx="-0.9">161,8</tspan></text>
<path d="M1454 206H1516a2 2 0 0 1 2 2V234.6a2 2 0 0 1 -2 2H1454z" fill="#22ab94"/>
<text x="1462.8" y="217.6" font-size="11.5" font-weight="bold" fill="#fff" textLength="49.5" lengthAdjust="spacingAndGlyphs">108 <tspan dx="-0.9">760,7</tspan></text>
<text x="1462.3999999999999" y="231.7" font-size="11.5" fill="rgba(255,255,255,0.84)" textLength="28.8" lengthAdjust="spacingAndGlyphs">44:18</text>
<path d="M1454 293H1516a2 2 0 0 1 2 2V307.8a2 2 0 0 1 -2 2H1454z" fill="#4caf50"/>
<text x="1462.8" y="304.6" font-size="11.5" font-weight="bold" fill="#fff" textLength="49.5" lengthAdjust="spacingAndGlyphs">107 <tspan dx="-0.9">650,1</tspan></text>
<path d="M1454 313H1516a2 2 0 0 1 2 2V328.3a2 2 0 0 1 -2 2H1454z" fill="#4caf50"/>
<text x="1462.8" y="324.6" font-size="11.5" font-weight="bold" fill="#fff" textLength="49.5" lengthAdjust="spacingAndGlyphs">107 <tspan dx="-0.9">400,0</tspan></text>
<path d="M1454 329.8H1516a2 2 0 0 1 2 2V345.7a2 2 0 0 1 -2 2H1454z" fill="#4caf50"/>
<text x="1462.8" y="341.4" font-size="11.5" font-weight="bold" fill="#fff" textLength="49.5" lengthAdjust="spacingAndGlyphs">107 <tspan dx="-0.9">358,1</tspan></text>
<path d="M1454 347.2H1516a2 2 0 0 1 2 2V361.5a2 2 0 0 1 -2 2H1454z" fill="#4caf50"/>
<text x="1462.8" y="358.8" font-size="11.5" font-weight="bold" fill="#fff" textLength="49.5" lengthAdjust="spacingAndGlyphs">107 <tspan dx="-0.9">026,1</tspan></text>
<path d="M1454 481H1516a2 2 0 0 1 2 2V495.5a2 2 0 0 1 -2 2H1454z" fill="#4caf50"/>
<text x="1462.8" y="492.6" font-size="11.5" font-weight="bold" fill="#fff" textLength="49.5" lengthAdjust="spacingAndGlyphs">105 <tspan dx="-0.9">255,1</tspan></text>
<path d="M1454 511H1516a2 2 0 0 1 2 2V525.7a2 2 0 0 1 -2 2H1454z" fill="#4caf50"/>
<text x="1462.8" y="522.5" font-size="11.5" font-weight="bold" fill="#fff" textLength="49.5" lengthAdjust="spacingAndGlyphs">104 <tspan dx="-0.9">876,2</tspan></text>
<text x="1462" y="567.1" font-size="11.5" fill="#131722" textLength="29.6" lengthAdjust="spacingAndGlyphs">300,0</text>
<text x="1462" y="605.0" font-size="11.5" fill="#131722" textLength="29.6" lengthAdjust="spacingAndGlyphs">200,0</text>
<text x="1462" y="643.2" font-size="11.5" fill="#131722" textLength="29.6" lengthAdjust="spacingAndGlyphs">100,0</text>
<text x="1462" y="679.8" font-size="11.5" fill="#131722" textLength="17" lengthAdjust="spacingAndGlyphs">0,0</text>
<text x="1462" y="717.3" font-size="11.5" fill="#131722" textLength="35.8" lengthAdjust="spacingAndGlyphs">−100,0</text>
<text x="1462" y="755.2" font-size="11.5" fill="#131722" textLength="35.8" lengthAdjust="spacingAndGlyphs">−200,0</text>
<rect x="1456.7" y="30.6" width="62.8" height="26.4" rx="4" fill="#fff" stroke="#f0f0f0" stroke-width="1.2"/>
<text x="1466.4" y="49" font-size="11.8" fill="#131722" textLength="27.3" lengthAdjust="spacingAndGlyphs" >USDT</text>
<text x="41.5" y="783.0" font-size="11.7" fill="#131722" font-weight="bold" text-anchor="middle" >Июл</text>
<text x="113.5" y="783.0" font-size="11.7" fill="#131722" text-anchor="middle" >12:00</text>
<text x="186.5" y="783.0" font-size="11.7" fill="#131722" text-anchor="middle" >2</text>
<text x="258.5" y="783.0" font-size="11.7" fill="#131722" text-anchor="middle" >12:00</text>
<text x="330.5" y="783.0" font-size="11.7" fill="#131722" text-anchor="middle" >3</text>
<text x="403.5" y="783.0" font-size="11.7" fill="#131722" text-anchor="middle" >12:00</text>
<text x="475.5" y="783.0" font-size="11.7" fill="#131722" text-anchor="middle" >4</text>
<text x="547.5" y="783.0" font-size="11.7" fill="#131722" text-anchor="middle" >12:00</text>
<text x="620.5" y="783.0" font-size="11.7" fill="#131722" text-anchor="middle" >5</text>
<text x="692.5" y="783.0" font-size="11.7" fill="#131722" text-anchor="middle" >12:00</text>
<text x="765.5" y="783.0" font-size="11.7" fill="#131722" text-anchor="middle" >6</text>
<text x="837.5" y="783.0" font-size="11.7" fill="#131722" text-anchor="middle" >12:00</text>
<text x="909.5" y="783.0" font-size="11.7" fill="#131722" text-anchor="middle" >7</text>
<text x="982.5" y="783.0" font-size="11.7" fill="#131722" text-anchor="middle" >12:00</text>
<text x="1054.5" y="783.0" font-size="11.7" fill="#131722" text-anchor="middle" >8</text>
<text x="1127.5" y="783.0" font-size="11.7" fill="#131722" text-anchor="middle" >12:00</text>
<text x="1199.5" y="783.0" font-size="11.7" fill="#131722" text-anchor="middle" >9</text>
<text x="1271.5" y="783.0" font-size="11.7" fill="#131722" text-anchor="middle" >12:00</text>
<text x="1344.5" y="783.0" font-size="11.7" fill="#131722" text-anchor="middle" >10</text>
<text x="1416.5" y="783.0" font-size="11.7" fill="#131722" text-anchor="middle" >12:00</text>
<path d="M10 805.1H18V814.9H13.6V808.8H10z M24.6 805.1H29.7L25.9 814.9H21.2z" fill="#131722"/><circle cx="21" cy="807" r="1.9" fill="#131722"/>
<text x="33.5" y="814.9" font-size="13" fill="#131722" textLength="69.5" lengthAdjust="spacingAndGlyphs" >TradingView</text>
</svg>
</body></html>
